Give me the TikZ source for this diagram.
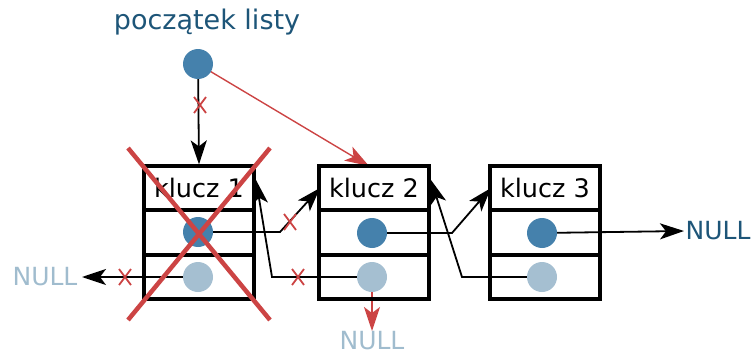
\documentclass[tikz,border=0pt]{standalone}
\usepackage{fontspec}
\setmainfont{DejaVu Sans}
\usetikzlibrary{arrows.meta,calc,backgrounds}
\definecolor{dblue}{HTML}{4581AC}
\definecolor{lblue}{HTML}{A5BFD1}
\definecolor{tblue}{HTML}{1D5578}
\definecolor{nullgray}{HTML}{A0BCCE}
\definecolor{xred}{HTML}{CC4444}
\tikzset{
  cell/.style={draw=black, line width=3.2pt, minimum width=110pt, minimum height=44pt, inner sep=0pt},
  keytext/.style={font=\fontsize{25.5}{25.5}\selectfont},
  nulltext/.style={font=\fontsize{25}{25}\selectfont, inner sep=0pt},
  dot/.style={circle, inner sep=0pt, minimum size=30pt},
  dotd/.style={dot, fill=dblue},
  dotl/.style={dot, fill=lblue},
  tipstyle/.tip={Stealth[length=24pt, width=16pt, inset=6pt]},
  ptr/.style={line width=1.8pt, -tipstyle},
  xmark/.style={xred, line width=1.8pt},
}
\newcommand{\crossmark}[1]{\draw[xmark] ($#1+(-6,-8)$) -- ($#1+(6,8)$) ($#1+(-6,8)$) -- ($#1+(6,-8)$);}
\begin{document}
\begin{tikzpicture}[x=1pt, y=-1pt]
\useasboundingbox (0,0) rectangle (753,356);
% boxes
\foreach \n/\x/\k in {a/199/1, b/374/2, c/545/3}{
  \node[cell, keytext] (\n1) at (\x,188) {klucz \k};
  \node[cell] (\n2) at (\x,232.5) {};
  \node[cell] (\n3) at (\x,277) {};
}
% dots
\node[dotd] (h) at (198,64) {};
\node[dotd] (d1) at (198,232) {};
\node[dotl] (p1) at (198,277) {};
\node[dotd] (d2) at (372,233) {};
\node[dotl] (p2) at (372,277) {};
\node[dotd] (d3) at (542,233) {};
\node[dotl] (p3) at (542,277) {};
% texts
\node[text=tblue, font=\fontsize{27}{27}\selectfont] (title) at (207,22) {początek listy};
\node[text=nullgray, nulltext] (nl) at (45,277) {NULL};
\node[text=tblue, nulltext] (nr) at (718,231) {NULL};
\node[text=nullgray, nulltext] (nb) at (372,341) {NULL};
% coordinates
\coordinate (a1r) at (256,180);
\coordinate (b1l) at (320,188);
\coordinate (b1r) at (431,180);
\coordinate (c1l) at (491,188);
\coordinate (nlend) at (82,277);
\coordinate (nrend) at (684,231);
\begin{pgfonlayer}{background}
% head pointers
\draw[ptr] (h.center) -- (a1.north);
\draw[ptr, xred, line width=1.4pt] (h.center) -- (369,166);
% next pointers
\draw[ptr] (d1.center) -- (280,232) -- (b1l);
\draw[ptr] (d2.center) -- (452,233) -- (c1l);
\draw[ptr] (d3.center) -- (nrend);
% prev pointers
\draw[ptr] (p1.center) -- (nlend);
\draw[ptr] (p2.center) -- (272,277) -- (a1r);
\draw[ptr] (p3.center) -- (462,277) -- (b1r);
\draw[ptr, xred] (p2.center) -- (372,331);
\end{pgfonlayer}
% cross marks
\crossmark{(200,105)}
\crossmark{(125,277)}
\crossmark{(298,277)}
\crossmark{(290,222)}
% big X
\draw[xred, line width=4.5pt] (128,148) -- (270,320) (270,148) -- (128,320);
\end{tikzpicture}
\end{document}
